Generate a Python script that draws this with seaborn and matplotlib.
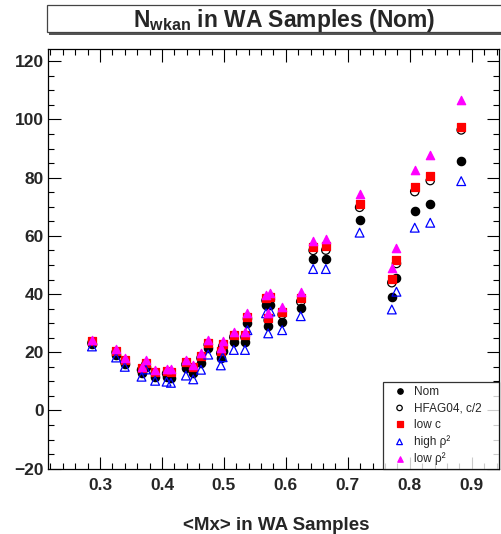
import matplotlib
matplotlib.use("Agg")
import pandas as pd
import seaborn as sns
import matplotlib.pyplot as plt
from matplotlib.patches import Rectangle
from matplotlib.ticker import MultipleLocator

# <Mx> of each WA sample
mx = [0.287, 0.326, 0.340, 0.367, 0.374, 0.389, 0.4075, 0.4145, 0.4387, 0.4505,
      0.463, 0.4747, 0.495, 0.498, 0.516, 0.534, 0.538, 0.568, 0.5715, 0.575,
      0.594, 0.624, 0.644, 0.6645, 0.719, 0.771, 0.7785, 0.808, 0.833, 0.883]

# N_wkan for each variation
nom = [22.8, 19.0, 15.9, 13.0, 15.0, 11.6, 11.6, 11.3, 14.5, 13.0,
       16.3, 21.3, 18.0, 20.3, 23.6, 23.6, 29.9, 36.2, 29.2, 36.2,
       30.5, 35.3, 52.1, 52.1, 65.3, 39.1, 45.4, 68.5, 70.8, 85.8]
hfag = [23.2, 20.0, 16.7, 13.9, 15.8, 12.7, 12.7, 12.6, 15.8, 14.1,
        18.0, 22.6, 19.7, 22.0, 25.2, 25.2, 31.5, 37.8, 31.0, 38.2,
        33.0, 37.4, 55.0, 55.1, 69.8, 43.9, 50.5, 75.2, 79.0, 96.4]
low_c = [23.8, 20.6, 17.3, 14.5, 16.4, 13.3, 13.4, 13.3, 16.6, 14.8,
         18.7, 23.3, 20.5, 22.8, 25.9, 25.9, 32.2, 38.5, 31.7, 39.0,
         33.8, 38.5, 56.0, 56.5, 70.9, 45.2, 51.8, 76.9, 80.5, 97.3]
high_rho2 = [22.0, 18.2, 15.0, 11.6, 14.1, 10.2, 9.9, 9.5, 12.0, 10.7,
             14.0, 19.2, 15.5, 18.3, 20.8, 20.8, 27.6, 33.4, 26.5, 34.0,
             27.6, 32.4, 48.6, 48.6, 61.1, 34.7, 40.8, 62.8, 64.5, 78.8]
low_rho2 = [24.3, 21.2, 17.9, 15.0, 17.3, 13.9, 14.1, 14.1, 17.4, 15.7,
            19.6, 24.2, 21.3, 23.8, 27.0, 27.0, 33.4, 39.7, 33.4, 40.2,
            35.6, 40.8, 58.3, 58.8, 74.3, 48.8, 55.9, 82.6, 87.8, 106.7]

sns.set_theme(style="ticks")
plt.rcParams['font.family'] = ['Liberation Sans', 'DejaVu Sans']
plt.rcParams['mathtext.fontset'] = 'custom'
plt.rcParams['mathtext.rm'] = 'Liberation Sans'
plt.rcParams['mathtext.bf'] = 'Liberation Sans:bold'
plt.rcParams['mathtext.it'] = 'Liberation Sans:italic'

df = pd.DataFrame({"mx": mx, "Nom": nom, "HFAG04, c/2": hfag, "low c": low_c,
                   "high ρ²": high_rho2, "low ρ²": low_rho2})

fig = plt.figure(figsize=(5.01, 5.34), dpi=100)
ax = fig.add_axes([47.7 / 501, 1 - 468.7 / 534, 451.3 / 501, 419.7 / 534])

styles = [
    ("Nom", dict(marker="o", facecolor="black", edgecolor="black", s=36)),
    ("HFAG04, c/2", dict(marker="o", facecolor="none", edgecolor="black", s=36)),
    ("low c", dict(marker="s", facecolor="red", edgecolor="red", s=32)),
    ("high ρ²", dict(marker="^", facecolor="none", edgecolor="blue", s=40)),
    ("low ρ²", dict(marker="^", facecolor="magenta", edgecolor="magenta", s=36)),
]
for name, kw in styles:
    sns.scatterplot(data=df, x="mx", y=name, ax=ax, label=name, linewidth=0.9, **kw)

ax.set_xlim(0.2156, 0.944)
ax.set_ylim(-20, 124.2)
ax.xaxis.set_major_locator(MultipleLocator(0.1))
ax.xaxis.set_minor_locator(MultipleLocator(0.02))
ax.yaxis.set_major_locator(MultipleLocator(20))
ax.yaxis.set_minor_locator(MultipleLocator(5))
ax.set_xticks([0.3, 0.4, 0.5, 0.6, 0.7, 0.8, 0.9])
ax.set_xticklabels(["0.3", "0.4", "0.5", "0.6", "0.7", "0.8", "0.9"])
ax.tick_params(which="both", direction="in", top=True, right=True, width=0.8, color="black")
ax.tick_params(which="major", length=9)
ax.tick_params(which="minor", length=4.5)
ax.tick_params(axis="x", pad=7, labelsize=12.5)
ax.tick_params(axis="y", pad=3, labelsize=12.5)
for lab in ax.get_xticklabels() + ax.get_yticklabels():
    lab.set_fontweight("bold")
for sp in ax.spines.values():
    sp.set_color("black")
    sp.set_linewidth(0.9)
ax.set_xlabel("")
ax.set_ylabel("")

leg = ax.legend(loc="lower left", bbox_to_anchor=(0.743, 0.0, 0.257, 0.204),
                mode="expand", borderaxespad=0,
                fontsize=8.5, frameon=True, fancybox=False, edgecolor="black",
                markerscale=0.65, handlelength=2.2, handletextpad=0.15,
                borderpad=0.3, labelspacing=0.38)
leg.get_frame().set_linewidth(0.9)

# title box with shadow, ROOT style
fig.patches.append(Rectangle((0.0932 + 0.005, 0.9395 - 0.005), 0.95, 0.0511,
                             transform=fig.transFigure, facecolor="#555555",
                             edgecolor="none", zorder=0))
fig.patches.append(Rectangle((0.0932, 0.9395), 0.95, 0.0511,
                             transform=fig.transFigure, facecolor="white",
                             edgecolor="#444444", linewidth=0.9, zorder=1))
fig.text(0.567, 0.950, r"N$_{\mathbf{wkan}}$ in WA Samples (Nom)", ha="center",
         va="baseline", fontsize=16.5, fontweight="bold", zorder=2)
fig.text(0.552, 0.0075, "<Mx> in WA Samples", ha="center", va="baseline",
         fontsize=13.5, fontweight="bold")

fig.savefig("out.png", dpi=100)
